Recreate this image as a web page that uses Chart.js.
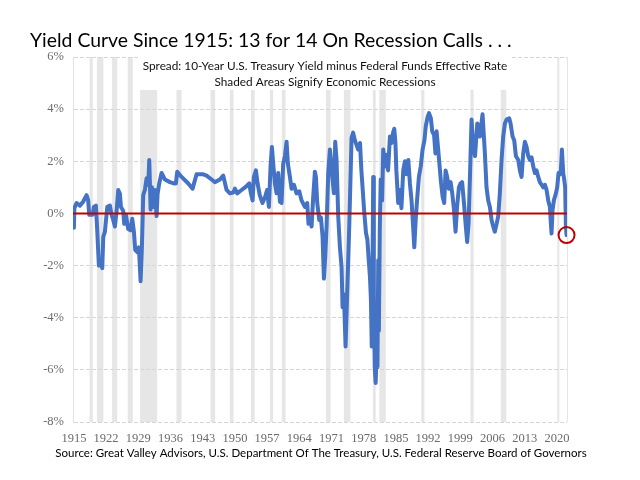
<!DOCTYPE html>
<html>
<head>
<meta charset="utf-8">
<script src="https://cdn.jsdelivr.net/npm/chart.js@4.4.1/dist/chart.umd.min.js"></script>
<style>
  body { margin: 0; background: #fff; }
  canvas { display: block; }
</style>
</head>
<body>
<canvas id="yield-chart" width="640" height="480"></canvas>
<script>
// spread = 10y treasury minus fed funds, %
const years = [
  1915.0, 1915.1, 1915.58, 1916.3, 1917.0, 1917.75, 1918.1, 1918.33, 1919.06, 1919.35,
  1919.78, 1920.07, 1920.43, 1920.8, 1921.16, 1921.38, 1921.74, 1922.25, 1922.83, 1923.19,
  1923.55, 1923.91, 1924.28, 1924.64, 1925.0, 1925.22, 1925.72, 1925.94, 1926.3, 1926.81,
  1927.32, 1927.68, 1928.04, 1928.33, 1928.84, 1929.13, 1929.49, 1929.78, 1930.07, 1930.43,
  1930.8, 1931.16, 1931.38, 1931.67, 1931.96, 1932.25, 1932.61, 1932.97, 1933.19, 1933.55,
  1934.06, 1934.78, 1935.87, 1936.74, 1937.17, 1937.46, 1938.41, 1939.86, 1940.8, 1941.67,
  1943.12, 1943.84, 1944.93, 1945.65, 1946.74, 1947.46, 1948.19, 1948.91, 1949.64, 1950.0,
  1950.5, 1951.45, 1952.54, 1953.12, 1953.4, 1953.84, 1954.13, 1954.57, 1954.93, 1955.4,
  1956.0, 1956.5, 1957.0, 1957.39, 1957.75, 1958.04, 1958.33, 1958.7, 1959.06, 1959.42,
  1959.78, 1960.14, 1960.5, 1960.87, 1961.23, 1961.52, 1961.96, 1962.32, 1962.83, 1963.4,
  1963.99, 1964.49, 1965.22, 1965.72, 1966.0, 1966.3, 1966.67, 1967.03, 1967.39, 1967.61,
  1967.9, 1968.33, 1968.7, 1969.06, 1969.35, 1969.64, 1969.93, 1970.29, 1970.65, 1970.94,
  1971.23, 1971.52, 1971.81, 1972.1, 1972.46, 1972.83, 1973.19, 1973.41, 1973.7, 1974.06,
  1974.42, 1974.86, 1975.36, 1975.7, 1976.09, 1976.8, 1977.2, 1977.5, 1978.1, 1978.5,
  1978.8, 1979.1, 1979.35, 1979.57, 1979.75, 1979.93, 1980.07, 1980.2, 1980.4, 1980.6,
  1980.8, 1981.0, 1981.16, 1981.3, 1981.5, 1981.7, 1982.0, 1982.25, 1982.6, 1982.97,
  1983.3, 1983.7, 1984.06, 1984.4, 1984.64, 1984.9, 1985.1, 1985.5, 1985.9, 1986.2,
  1986.6, 1986.96, 1987.3, 1987.7, 1988.05, 1988.4, 1988.8, 1989.0, 1989.3, 1989.6,
  1990.0, 1990.4, 1990.8, 1991.2, 1991.5, 1991.9, 1992.2, 1992.6, 1992.9, 1993.3,
  1993.6, 1993.85, 1994.2, 1994.8, 1995.15, 1995.5, 1995.8, 1996.15, 1996.5, 1996.9,
  1997.25, 1997.6, 1997.97, 1998.3, 1998.7, 1999.05, 1999.4, 1999.8, 2000.2, 2000.5,
  2000.8, 2001.1, 2001.45, 2001.8, 2002.2, 2002.7, 2003.26, 2003.84, 2004.35, 2004.7,
  2005.07, 2005.44, 2005.8, 2006.16, 2006.5, 2006.9, 2007.25, 2007.6, 2007.97, 2008.33,
  2008.7, 2009.06, 2009.64, 2009.93, 2010.37, 2010.73, 2011.09, 2011.6, 2011.96, 2012.32,
  2012.68, 2013.05, 2013.41, 2013.77, 2014.13, 2014.5, 2014.86, 2015.22, 2015.58, 2015.95,
  2016.3, 2016.67, 2017.03, 2017.4, 2017.76, 2018.12, 2018.48, 2018.7, 2018.84, 2019.06,
  2019.35, 2019.79, 2020.07, 2020.36, 2020.66, 2020.87, 2021.09, 2021.38, 2021.6, 2021.8,
  2021.96, 2022.1
];
const spread = [
  -0.55, 0.2, 0.4, 0.3, 0.45, 0.7, 0.5, -0.05, -0.05, 0.25,
  0.3, -0.65, -2.0, -1.9, -2.1, -0.9, -0.7, 0.25, 0.3, -0.05,
  -0.25, -0.5, 0.1, 0.9, 0.75, 0.25, 0.1, -0.4, -0.05, -0.6,
  -0.65, -0.2, -0.7, -1.4, -1.5, -1.3, -2.6, -1.3, 0.7, 0.9,
  1.35, 1.1, 2.05, 0.15, 1.0, 0.25, 0.9, -0.1, 0.75, 1.15,
  1.55, 1.3, 1.2, 1.15, 1.15, 1.6, 1.4, 1.15, 0.95, 1.5,
  1.5, 1.45, 1.3, 1.2, 1.3, 1.45, 0.9, 0.77, 0.8, 0.95,
  0.77, 0.9, 1.05, 1.15, 0.85, 0.5, 1.4, 1.65, 1.15, 0.7,
  0.4, 0.6, 0.9, 0.25, 1.8, 2.55, 1.9, 1.15, 0.77, 1.55,
  0.45, 0.4, 1.9, 2.2, 2.75, 1.9, 1.4, 0.95, 1.1, 0.77,
  0.85, 0.5, 0.25, 0.4, -0.4, -0.2, -0.5, 0.65, 1.6, 1.4,
  0.4, -0.25, -0.15, -0.9, -2.5, -1.65, -0.5, 1.55, 2.45, 1.9,
  1.3, 0.77, 2.75, 2.05, -0.1, -1.3, -2.05, -3.6, -3.1, -5.1,
  -3.0, -0.5, 2.9, 3.1, 2.8, 2.45, 2.7, 1.65, 0.1, -0.75,
  -1.0, -1.8, -2.4, -3.3, -5.1, -2.0, 1.4, -3.1, -5.9, -6.5,
  -5.4, -5.9, -1.8, -4.5, -0.6, 1.3, 0.5, 2.45, 1.8, 2.25,
  1.65, 2.95, 2.7, 3.1, 3.25, 2.7, 1.65, 0.4, 0.9, 0.2,
  1.65, 2.0, 1.5, 2.05, 1.15, 0.5, -0.65, -1.3, -0.25, 0.5,
  1.4, 1.8, 2.45, 2.8, 3.35, 3.7, 3.85, 3.65, 3.15, 3.0,
  2.3, 3.15, 2.45, 1.2, 0.65, 0.4, 1.65, 1.4, 0.95, 1.2,
  0.77, 0.2, -0.7, 0.25, 1.0, 1.15, 1.2, 0.4, -0.5, -1.1,
  -0.4, 1.4, 3.6, 2.55, 2.2, 3.45, 2.95, 3.8, 2.3, 1.0,
  0.5, 0.25, -0.25, -0.5, -0.7, -0.4, -0.1, 0.77, 2.05, 2.95,
  3.45, 3.6, 3.65, 3.45, 2.95, 2.8, 2.2, 2.05, 1.65, 1.4,
  2.3, 2.75, 2.55, 2.2, 2.05, 2.15, 1.8, 1.55, 1.65, 1.4,
  1.2, 1.1, 1.0, 1.1, 0.9, 0.5, 0.25, -0.4, -0.77, 0.13,
  0.5, 0.77, 1.0, 1.55, 1.5, 1.65, 2.45, 1.55, 1.3, 1.0,
  -0.5, -0.83
];

// shaded recessions (start / end, decimal years)
const recessionStart = [1918.4, 1920.0, 1923.3, 1926.7, 1929.4, 1937.3, 1944.7, 1948.9, 1953.5, 1957.6,
  1960.2, 1969.8, 1973.7, 1980.0, 1981.4, 1990.5, 2001.2, 2007.8, 2020.1];
const recessionEnd = [1919.1, 1921.4, 1924.4, 1927.8, 1933.1, 1938.4, 1945.7, 1949.7, 1954.3, 1958.3,
  1961.0, 1970.8, 1975.1, 1980.6, 1982.8, 1991.2, 2001.9, 2009.0, 2020.4];

const xTickYears = [1915, 1922, 1929, 1936, 1943, 1950, 1957, 1964, 1971, 1978, 1985, 1992, 1999, 2006, 2013, 2020];
const yTickValues = [-8, -6, -4, -2, 0, 2, 4, 6];
const zeroLineYears = [1914.8, 2022.2];
const zeroLineValues = [0, 0];

const titleText = 'Yield Curve Since 1915: 13 for 14 On Recession Calls . . .';
const subtitleLines = [
  'Spread: 10-Year U.S. Treasury Yield minus Federal Funds Effective Rate',
  'Shaded Areas Signify Economic Recessions'
];
const sourceText = 'Source: Great Valley Advisors, U.S. Department Of The Treasury, U.S. Federal Reserve Board of Governors';

const spreadPoints = years.map((yr, i) => ({ x: yr, y: spread[i] }));
const zeroPoints = zeroLineYears.map((yr, i) => ({ x: yr, y: zeroLineValues[i] }));
const lastPoint = spreadPoints[spreadPoints.length - 1];

const decorPlugin = {
  id: 'decor',
  beforeDraw(chart) {
    const { ctx, chartArea: a, scales: { x } } = chart;
    ctx.save();
    ctx.fillStyle = '#e6e6e6';
    recessionStart.forEach((start, i) => {
      const x0 = x.getPixelForValue(start);
      const x1 = x.getPixelForValue(recessionEnd[i]);
      ctx.fillRect(x0, a.top, Math.max(x1 - x0, 2), a.bottom - a.top);
    });
    ctx.restore();
  },
  beforeDatasetsDraw(chart) {
    const { ctx, chartArea: a } = chart;
    ctx.save();
    // right edge of the plot
    ctx.strokeStyle = '#e1e6ec';
    ctx.lineWidth = 1;
    ctx.beginPath();
    ctx.moveTo(a.right + 0.5, a.top);
    ctx.lineTo(a.right + 0.5, a.bottom);
    ctx.stroke();
    // white box behind the subtitle
    ctx.fillStyle = '#ffffff';
    ctx.fillRect(140, a.top - 2, 370, 35);
    ctx.fillStyle = '#111';
    ctx.font = '11.8px Lato';
    ctx.textAlign = 'center';
    ctx.textBaseline = 'alphabetic';
    ctx.fillText(subtitleLines[0], 325, 70);
    ctx.fillText(subtitleLines[1], 325, 86);
    ctx.restore();
  },
  afterDraw(chart) {
    const { ctx } = chart;
    ctx.save();
    ctx.fillStyle = '#000';
    ctx.textBaseline = 'alphabetic';
    ctx.font = '19.4px Lato';
    ctx.textAlign = 'left';
    ctx.fillText(titleText, 30, 47);
    ctx.font = '11.5px Lato';
    ctx.textAlign = 'center';
    ctx.fillText(sourceText, 321, 457);
    ctx.restore();
  }
};

const tickFont = { family: 'Liberation Serif', size: 12.5 };

new Chart(document.getElementById('yield-chart'), {
  type: 'line',
  data: {
    datasets: [
      {
        label: 'end',
        data: [lastPoint],
        showLine: false,
        pointRadius: 8,
        pointBorderWidth: 2,
        pointBorderColor: '#c00000',
        pointBackgroundColor: 'rgba(0,0,0,0)',
        clip: false
      },
      {
        label: 'zero',
        data: zeroPoints,
        borderColor: '#c00000',
        borderWidth: 2,
        pointRadius: 0
      },
      {
        label: 'Spread',
        data: spreadPoints,
        borderColor: '#4472c4',
        borderWidth: 4,
        borderJoinStyle: 'round',
        borderCapStyle: 'round',
        pointRadius: 0,
        tension: 0
      }
    ]
  },
  options: {
    responsive: false,
    animation: false,
    layout: { padding: { left: 0, right: 73, top: 57, bottom: 28 } },
    plugins: {
      legend: { display: false },
      tooltip: { enabled: false },
      title: { display: false }
    },
    scales: {
      x: {
        type: 'linear',
        min: zeroLineYears[0],
        max: zeroLineYears[1],
        afterBuildTicks: (s) => { s.ticks = xTickYears.map(v => ({ value: v })); },
        afterFit: (s) => { s.height = 30; },
        grid: { display: false, drawTicks: false },
        border: { display: false },
        ticks: {
          autoSkip: false,
          maxRotation: 0,
          padding: 9,
          color: '#6b6b6b',
          font: tickFont,
          callback: (v) => String(v)
        }
      },
      y: {
        min: yTickValues[0],
        max: yTickValues[yTickValues.length - 1],
        afterBuildTicks: (s) => { s.ticks = yTickValues.map(v => ({ value: v })); },
        afterFit: (s) => { s.width = 73; },
        grid: { color: '#d6d6d6', lineWidth: 1, drawTicks: false },
        border: { display: true, color: '#dde3ea', width: 1, dash: [4, 2] },
        ticks: {
          padding: 9,
          color: '#6b6b6b',
          font: tickFont,
          callback: (v) => v + '%'
        }
      }
    }
  },
  plugins: [decorPlugin]
});
</script>
</body>
</html>
